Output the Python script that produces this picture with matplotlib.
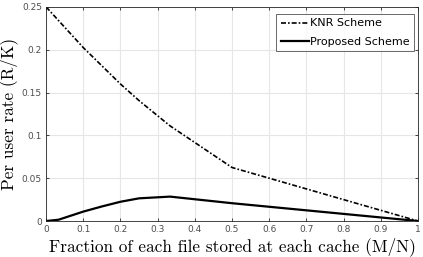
import matplotlib
matplotlib.use("Agg")
import matplotlib.pyplot as plt

# cache fraction M/N and per-user rate R/K
knr_x = [0, 0.1, 0.2, 0.25, 1/3, 0.5, 1]
knr_y = [0.25, 0.2025, 0.16, 0.1406, 0.1111, 0.0625, 0]

prop_x = [0, 0.0333, 0.1, 0.15, 0.2, 0.25, 1/3, 0.5, 1]
prop_y = [0, 0.0015, 0.0110, 0.0170, 0.0225, 0.0265, 0.0285, 0.0208, 0]

xticks = [0, 0.1, 0.2, 0.3, 0.4, 0.5, 0.6, 0.7, 0.8, 0.9, 1]
xtick_labels = ["0", "0.1", "0.2", "0.3", "0.4", "0.5", "0.6", "0.7", "0.8", "0.9", "1"]
yticks = [0, 0.05, 0.1, 0.15, 0.2, 0.25]
ytick_labels = ["0", "0.05", "0.1", "0.15", "0.2", "0.25"]

axcol = "#262626"

fig = plt.figure(figsize=(4.23, 2.57), dpi=100)
ax = fig.add_axes([0.109, 0.140, 0.879, 0.833])

ax.plot(knr_x, knr_y, color="black", linestyle=(0, (3, 1.2, 1, 1.2)), linewidth=1.2,
        label="KNR Scheme")
ax.plot(prop_x, prop_y, color="black", linestyle="-", linewidth=1.6, label="Proposed Scheme")

ax.set_xlim(0, 1)
ax.set_ylim(0, 0.25)
ax.set_xticks(xticks)
ax.set_xticklabels(xtick_labels)
ax.set_yticks(yticks)
ax.set_yticklabels(ytick_labels)
ax.grid(True, color="#e6e6e6", linewidth=0.8)
ax.set_axisbelow(True)
ax.tick_params(direction="in", length=2.5, width=0.6, colors=axcol,
               labelsize=6.5, top=True, right=True, pad=3)
ax.tick_params(labelcolor="#4d4d4d")
for s in ax.spines.values():
    s.set_color(axcol)
    s.set_linewidth(0.6)

ax.set_xlabel("Fraction of each file stored at each cache (M/N)",
              fontfamily="cmr10", fontsize=12.4, labelpad=2)
ax.set_ylabel("Per user rate (R/K)", fontfamily="cmr10", fontsize=12.4, labelpad=2.5)

leg = ax.legend(loc="upper right", fontsize=8, handlelength=2.5, handletextpad=0.1,
                borderpad=0.4, labelspacing=0.75, fancybox=False,
                bbox_to_anchor=(0.989, 0.967), borderaxespad=0)
leg.get_frame().set_edgecolor(axcol)
leg.get_frame().set_linewidth(0.6)

fig.savefig("out.png", dpi=100)
